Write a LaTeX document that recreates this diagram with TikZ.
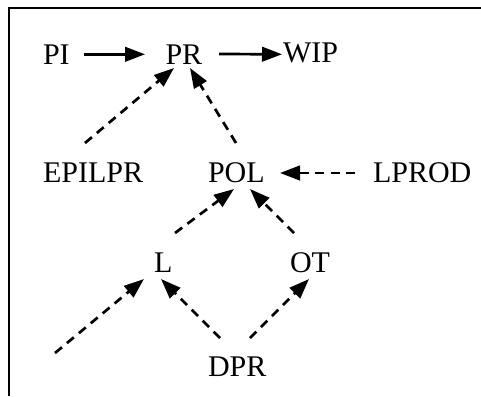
\documentclass[tikz,border=0pt]{standalone}
\usepackage{fontspec}
\setmainfont{Liberation Serif}
\usetikzlibrary{arrows.meta}
\tikzset{
  lbl/.style={anchor=base west, inner sep=0pt, outer sep=0pt, font=\fontsize{30}{32}\selectfont},
  flow/.style={line width=2.7pt, -{Triangle[length=20pt,width=14.5pt]}},
  infl/.style={flow, dash pattern=on 9pt off 6.5pt},
  frame/.style={line width=2.4pt}
}
\begin{document}
\begin{tikzpicture}[x=1pt,y=-1pt]
\useasboundingbox (0,0) rectangle (481,396);
% open frame: left and top edges
\draw[frame] (9,396) -- (9,8) -- (481,8);

% variables
\node[lbl] (PI)     at (43,64.5)  {PI};
\node[lbl] (PR)     at (165.5,64.5) {PR};
\node[lbl] (WIP)    at (283,63)   {WIP};
\node[lbl] (EPILPR) at (43,182)   {EPILPR};
\node[lbl] (POL)    at (208,182)  {POL};
\node[lbl] (LPROD)  at (373,182)  {LPROD};
\node[lbl] (L)      at (154,272)  {L};
\node[lbl] (OT)     at (290,272)  {OT};
\node[lbl] (DPR)    at (208,376)  {DPR};
\coordinate (ext) at (55,353);

% material flow
\draw[flow] ([shift={(41,-10.2)}]PI.base west) -- ([shift={(-20.5,-10.2)}]PR.base west);
\draw[flow] ([shift={(53.5,-10.5)}]PR.base west) -- ([shift={(-1,-8.7)}]WIP.base west);

% influences
\draw[infl] ([shift={(42,-39)}]EPILPR.base west) -- ([shift={(8.5,3.5)}]PR.base west);
\draw[infl] ([shift={(28,-39)}]POL.base west) -- ([shift={(24.5,3.5)}]PR.base west);
\draw[infl] ([shift={(-18,-9)}]LPROD.base west) -- ([shift={(72,-9)}]POL.base west);
\draw[infl] ([shift={(21,-39)}]L.base west) -- ([shift={(26,7)}]POL.base west);
\draw[infl] ([shift={(4,-39)}]OT.base west) -- ([shift={(42,7)}]POL.base west);
\draw[infl] (ext) -- ([shift={(-10,7)}]L.base west);
\draw[infl] ([shift={(12,-38)}]DPR.base west) -- ([shift={(7,7)}]L.base west);
\draw[infl] ([shift={(42,-38)}]DPR.base west) -- ([shift={(19,7)}]OT.base west);
\end{tikzpicture}
\end{document}
